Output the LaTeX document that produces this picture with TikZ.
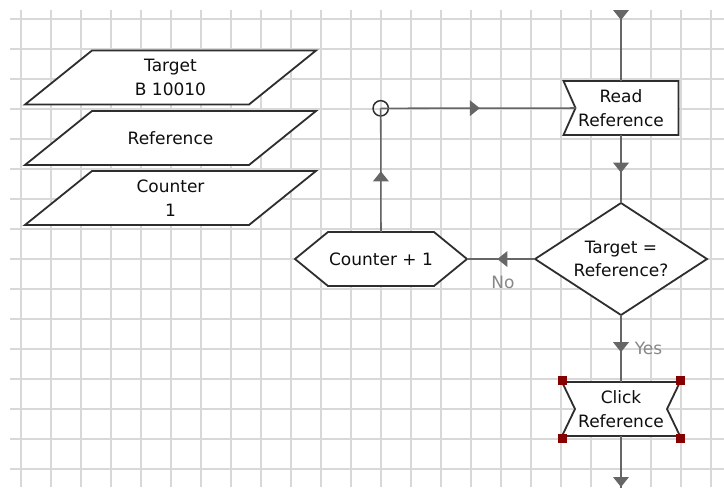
\documentclass[tikz,border=0pt]{standalone}
\usepackage{fontspec}
\setmainfont{DejaVu Sans}
\usetikzlibrary{calc,decorations.markings}
\definecolor{gridc}{HTML}{D8D8D8}
\definecolor{linec}{HTML}{2E2E2E}
\definecolor{connc}{HTML}{666666}
\definecolor{lblc}{HTML}{888888}
\definecolor{handc}{HTML}{870000}
\definecolor{txtc}{HTML}{0E0E0E}
\pgfdeclarelayer{gridlayer}
\pgfdeclarelayer{shapelayer}
\pgfsetlayers{gridlayer,shapelayer,main}
\begin{document}
\begin{tikzpicture}[x=0.75pt,y=-0.75pt,
  gridl/.style={draw=gridc, line width=1.1pt},
  outl/.style={draw=linec, fill=white, line width=1.35pt, line join=miter},
  conn/.style={draw=connc, line width=1.15pt},
  box/.style 2 args={draw=none, inner sep=0pt, outer sep=0pt,
    minimum width=#1*0.75pt, minimum height=#2*0.75pt, align=center,
    text=txtc, font=\fontsize{12.75}{17.6}\selectfont},
  lbl/.style={text=lblc, inner sep=0pt, font=\fontsize{12.75}{17.6}\selectfont},
  midarrow/.style={postaction={decorate, decoration={markings,
    mark=at position #1 with {\fill[connc] (5,0) -- (-5,8) -- (-5,-8) -- cycle;}}}},
  handle/.style={fill=handc}
]
\useasboundingbox (0,0) rectangle (724,487);

% background grid
\begin{pgfonlayer}{gridlayer}
  \fill[white] (0,0) rectangle (724,487);
  \foreach \i in {0,...,23} \draw[gridl] (21+30*\i,10) -- (21+30*\i,487);
  \foreach \j in {0,...,15} \draw[gridl] (10,19+30*\j) -- (724,19+30*\j);
\end{pgfonlayer}

% data nodes (parallelograms)
\node[box={291}{54}] (tgt) at (170.5,77.5) {Target\\B 10010};
\node[box={291}{54}] (ref) at (170.5,138) {Reference};
\node[box={291}{54}] (cnt) at (170.5,198) {Counter\\1};

% process nodes
\node[box={115}{54}] (read) at (621,108) {Read\\Reference};
\node[box={172}{112}] (dec) at (621,259) {Target =\\Reference?};
\node[box={172}{54}] (hex) at (381,259) {Counter + 1};
\node[box={118}{54}] (click) at (621,409) {Click\\Reference};
\node[circle, draw=linec, line width=1.1pt, minimum size=11.5pt, inner sep=0pt] (circ) at (380.7,108.3) {};

\coordinate (readin) at ($(read.west)+(12,0)$);
\coordinate (topin) at (621,10);
\coordinate (botout) at (621,492);

% outlines
\begin{pgfonlayer}{shapelayer}
  \foreach \n in {tgt,ref,cnt}
    \draw[outl] ($(\n.north west)+(67,0)$) -- (\n.north east) -- ($(\n.south east)+(-67,0)$) -- (\n.south west) -- cycle;
  \draw[outl] (read.north west) -- (read.north east) -- (read.south east) -- (read.south west) -- (readin) -- cycle;
  \draw[outl] (dec.north) -- (dec.east) -- (dec.south) -- (dec.west) -- cycle;
  \draw[outl] (hex.west) -- ($(hex.north west)+(33,0)$) -- ($(hex.north east)+(-33,0)$) -- (hex.east)
     -- ($(hex.south east)+(-33,0)$) -- ($(hex.south west)+(33,0)$) -- cycle;
  \draw[outl] (click.north west) -- (click.north east) -- ($(click.east)+(-13,0)$) -- (click.south east)
     -- (click.south west) -- ($(click.west)+(13,0)$) -- cycle;
\end{pgfonlayer}

% connectors
\draw[conn, midarrow=3.75pt] (topin) -- (read.north);
\draw[conn, midarrow=0.48] (read.south) -- (dec.north);
\draw[conn, midarrow=0.48] (dec.west) -- (hex.east)
  node[lbl, pos=0.47, yshift=-17.25pt] (nolbl) {No};
\draw[conn, midarrow=0.48] (dec.south) -- (click.north)
  node[lbl, pos=0.5, anchor=west, xshift=9.75pt] (yeslbl) {Yes};
\draw[conn, midarrow=0.45] (hex.north) -- (circ.center);
\draw[conn, midarrow=0.483] (circ.center) -- (readin);
\draw[conn, midarrow=34.5pt] (click.south) -- (botout);

% selection handles
\foreach \a/\dy in {north west/-2, north east/-2, south west/2, south east/2}
  \fill[handle] ($(click.\a)+(0,\dy)$) +(-4.5,-4.5) rectangle +(4.5,4.5);
\end{tikzpicture}
\end{document}
